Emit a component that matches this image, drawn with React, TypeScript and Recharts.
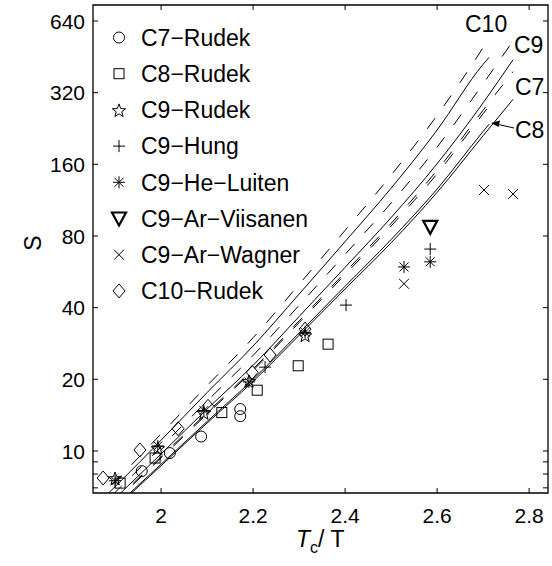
import React from "react";
import { ComposedChart, Line, Scatter, XAxis, YAxis, ReferenceArea } from "recharts";

// model curves: S versus Tc/T (two x grids, curves stop at different ends)
const xShort = [1.85, 1.9, 2.0, 2.1, 2.2, 2.3, 2.4, 2.5, 2.6, 2.7, 2.713];
const xLong = [1.85, 1.9, 2.0, 2.1, 2.2, 2.3, 2.4, 2.5, 2.6, 2.7, 2.765];

const c10DashedS = [5.97, 7.43, 11.8, 18.8, 29.9, 50.1, 84.5, 144, 257, 495, 542];
const c10SolidS = [5.7, 7.08, 11.1, 17.6, 27.6, 45.6, 75.8, 127, 223, 421, 450];
const c9DashedS = [5.41, 6.7, 10.4, 16.2, 25.2, 40.9, 67.0, 110, 189, 349, 528];
const c9SolidS = [5.13, 6.33, 9.72, 15.0, 22.9, 36.7, 59.1, 95.6, 161, 290, 440];
const c7DashedS = [5.03, 6.2, 9.46, 14.5, 22.1, 35.2, 56.3, 90.4, 151, 270, 392];
const c8DashedS = [4.98, 6.13, 9.35, 14.3, 21.8, 34.6, 55.1, 88.1, 146, 261, 281];
const c8SolidS = [4.75, 5.83, 8.8, 13.3, 20.0, 31.3, 49.2, 77.3, 126, 220, 236];
const c7SolidS = [4.7, 5.76, 8.67, 13.1, 19.6, 30.6, 47.9, 74.9, 122, 211, 300];

// measured points
const c7RudekX = [1.958, 2.019, 2.087, 2.172, 2.172];
const c7RudekS = [8.23, 9.8, 11.5, 15.0, 14.0];
const c8RudekX = [1.911, 1.987, 2.132, 2.209, 2.298, 2.363];
const c8RudekS = [7.33, 9.34, 14.5, 18.0, 22.8, 28.1];
const c9RudekX = [1.9, 1.993, 2.093, 2.191, 2.313];
const c9RudekS = [7.7, 10.3, 14.5, 19.7, 30.7];
const c9HungX = [2.226, 2.402, 2.585];
const c9HungS = [22.5, 41, 70.5];
const c9HeLuitenX = [1.9, 1.993, 2.093, 2.191, 2.313, 2.528, 2.585];
const c9HeLuitenS = [7.5, 10.5, 14.8, 19.5, 31.5, 59.3, 62.3];
const c9ViisanenX = [2.585];
const c9ViisanenS = [87.4];
const c9WagnerX = [2.528, 2.702, 2.765];
const c9WagnerS = [50.4, 124.8, 120];
const c10RudekX = [1.874, 1.954, 2.037, 2.102, 2.198, 2.237, 2.313];
const c10RudekS = [7.7, 10.1, 12.4, 15.4, 21.4, 25.3, 32.5];

const legendLabels = [
  "C7\u2212Rudek",
  "C8\u2212Rudek",
  "C9\u2212Rudek",
  "C9\u2212Hung",
  "C9\u2212He\u2212Luiten",
  "C9\u2212Ar\u2212Viisanen",
  "C9\u2212Ar\u2212Wagner",
  "C10\u2212Rudek",
];
const legendMarkers = ["circle", "square", "star", "plus", "asterisk", "triangle", "cross", "diamond"];

const xTicks = [2, 2.2, 2.4, 2.6, 2.8];
const yTicks = [7, 8, 9, 10, 20, 40, 80, 160, 320, 640];
const yMajor = [10, 20, 40, 80, 160, 320, 640];

const FONT = "'Liberation Sans', Arial, Helvetica, sans-serif";
const PLOT = { left: 93, right: 548, top: 5, bottom: 493 };

const pts = (xs: number[], ss: number[]) => xs.map((x, i) => ({ x, s: ss[i] }));

function Marker({ kind, cx, cy }: { kind: string; cx: number; cy: number }) {
  const st = { stroke: "#000", strokeWidth: 1, fill: "none" };
  if (kind === "circle") return <circle cx={cx} cy={cy} r={5.5} {...st} />;
  if (kind === "square") return <rect x={cx - 5} y={cy - 5} width={10} height={10} {...st} />;
  if (kind === "diamond")
    return <polygon points={`${cx},${cy - 7} ${cx + 6},${cy} ${cx},${cy + 7} ${cx - 6},${cy}`} {...st} />;
  if (kind === "triangle")
    return (
      <polygon
        points={`${cx - 7},${cy - 6} ${cx + 7},${cy - 6} ${cx},${cy + 7}`}
        stroke="#000"
        strokeWidth={2.2}
        fill="none"
      />
    );
  if (kind === "plus")
    return (
      <g {...st}>
        <line x1={cx - 6} x2={cx + 6} y1={cy} y2={cy} />
        <line x1={cx} x2={cx} y1={cy - 6} y2={cy + 6} />
      </g>
    );
  if (kind === "cross")
    return (
      <g {...st}>
        <line x1={cx - 5} x2={cx + 5} y1={cy - 5} y2={cy + 5} />
        <line x1={cx - 5} x2={cx + 5} y1={cy + 5} y2={cy - 5} />
      </g>
    );
  if (kind === "asterisk")
    return (
      <g {...st}>
        <line x1={cx - 6} x2={cx + 6} y1={cy} y2={cy} />
        <line x1={cx} x2={cx} y1={cy - 6} y2={cy + 6} />
        <line x1={cx - 4.5} x2={cx + 4.5} y1={cy - 4.5} y2={cy + 4.5} />
        <line x1={cx - 4.5} x2={cx + 4.5} y1={cy + 4.5} y2={cy - 4.5} />
      </g>
    );
  // five pointed star
  const p: string[] = [];
  for (let i = 0; i < 10; i++) {
    const a = (-90 + i * 36) * (Math.PI / 180);
    const r = i % 2 ? 2.9 : 7;
    p.push(`${cx + r * Math.cos(a)},${cy + 1 + r * Math.sin(a)}`);
  }
  return <polygon points={p.join(" ")} {...st} />;
}

const shapeOf = (kind: string) => (props: any) => <Marker kind={kind} cx={props.cx} cy={props.cy} />;

const XTick = (props: any) => {
  const { x, payload } = props;
  return (
    <g>
      <line x1={x} x2={x} y1={PLOT.bottom} y2={PLOT.bottom - 5} stroke="#000" />
      <line x1={x} x2={x} y1={PLOT.top} y2={PLOT.top + 5} stroke="#000" />
      <text x={x} y={523} textAnchor="middle" fontSize={21} fontFamily={FONT} fill="#000">
        {payload.value}
      </text>
    </g>
  );
};

const YTick = (props: any) => {
  const { y, payload } = props;
  const major = yMajor.includes(payload.value);
  return (
    <g>
      <line x1={PLOT.left} x2={PLOT.left + 5} y1={y} y2={y} stroke="#000" />
      <line x1={PLOT.right} x2={PLOT.right - 5} y1={y} y2={y} stroke="#000" />
      {major && (
        <text x={85} y={y} dy="0.36em" textAnchor="end" fontSize={21} fontFamily={FONT} fill="#000">
          {payload.value}
        </text>
      )}
    </g>
  );
};

const curves = [
  { d: pts(xShort, c10DashedS), dash: "13 15" },
  { d: pts(xShort, c10SolidS), dash: undefined },
  { d: pts(xLong, c9DashedS), dash: "13 15" },
  { d: pts(xLong, c9SolidS), dash: undefined },
  { d: pts(xLong, c7DashedS), dash: "13 15" },
  { d: pts(xShort, c8DashedS), dash: "13 15" },
  { d: pts(xShort, c8SolidS), dash: undefined },
  { d: pts(xLong, c7SolidS), dash: undefined },
];

const markerSets = [
  { d: pts(c7RudekX, c7RudekS), kind: "circle" },
  { d: pts(c8RudekX, c8RudekS), kind: "square" },
  { d: pts(c9RudekX, c9RudekS), kind: "star" },
  { d: pts(c9HungX, c9HungS), kind: "plus" },
  { d: pts(c9HeLuitenX, c9HeLuitenS), kind: "asterisk" },
  { d: pts(c9ViisanenX, c9ViisanenS), kind: "triangle" },
  { d: pts(c9WagnerX, c9WagnerS), kind: "cross" },
  { d: pts(c10RudekX, c10RudekS), kind: "diamond" },
];

export default function App() {
  return (
    <div style={{ position: "absolute", left: 0, top: 0, width: 552, height: 566, background: "#fff" }}>
      <ComposedChart width={552} height={566} margin={{ top: 5, right: 4, bottom: 0, left: 0 }}>
        <XAxis
          type="number"
          dataKey="x"
          domain={[1.852, 2.841]}
          allowDataOverflow
          ticks={xTicks}
          interval={0}
          height={73}
          axisLine={false}
          tickLine={false}
          tick={<XTick />}
        />
        <YAxis
          type="number"
          dataKey="s"
          scale="log"
          domain={[6.66, 747]}
          allowDataOverflow
          ticks={yTicks}
          interval={0}
          width={93}
          axisLine={false}
          tickLine={false}
          tick={<YTick />}
        />
        {curves.map((c, i) => (
          <Line
            key={"c" + i}
            data={c.d}
            dataKey="s"
            type="monotone"
            stroke="#000"
            strokeWidth={1}
            strokeDasharray={c.dash}
            dot={false}
            activeDot={false}
            isAnimationActive={false}
          />
        ))}
        {markerSets.map((m, i) => (
          <Scatter key={"m" + i} data={m.d} dataKey="s" shape={shapeOf(m.kind)} isAnimationActive={false} />
        ))}
        <ReferenceArea
          x1={1.852}
          x2={2.841}
          y1={6.66}
          y2={747}
          fill="none"
          fillOpacity={0}
          stroke="#000"
          strokeWidth={1.3}
          ifOverflow="visible"
        />
      </ComposedChart>
      <svg
        width={552}
        height={566}
        style={{ position: "absolute", left: 0, top: 0, pointerEvents: "none" }}
        fontFamily={FONT}
      >
        {legendLabels.map((lab, i) => {
          const cy = 37.5 + i * 36.2;
          return (
            <g key={lab}>
              <Marker kind={legendMarkers[i]} cx={119} cy={cy} />
              <text x={141} y={cy} dy="0.36em" fontSize={23} fill="#000">
                {lab}
              </text>
            </g>
          );
        })}
        <text x={465} y={32} fontSize={23} fill="#000">C10</text>
        <text x={514} y={53} fontSize={23} fill="#000">C9</text>
        <text x={515} y={95} fontSize={23} fill="#000">C7</text>
        <text x={515} y={138} fontSize={23} fill="#000">C8</text>
        <line x1={514} y1={128} x2={496} y2={124} stroke="#000" strokeWidth={1} />
        <polygon points="491,123 500,120.5 498.5,127" fill="#000" />
        <text x={33} y={243} fontSize={23} fill="#000" textAnchor="middle" transform="rotate(-90 33 243)" dy="0.36em">
          S
        </text>
        <text x={296} y={547} fontSize={23} fill="#000">
          <tspan fontStyle="italic">T</tspan>
          <tspan fontSize={16} dy={6}>c</tspan>
          <tspan dy={-6}>/ T</tspan>
        </text>
      </svg>
    </div>
  );
}
